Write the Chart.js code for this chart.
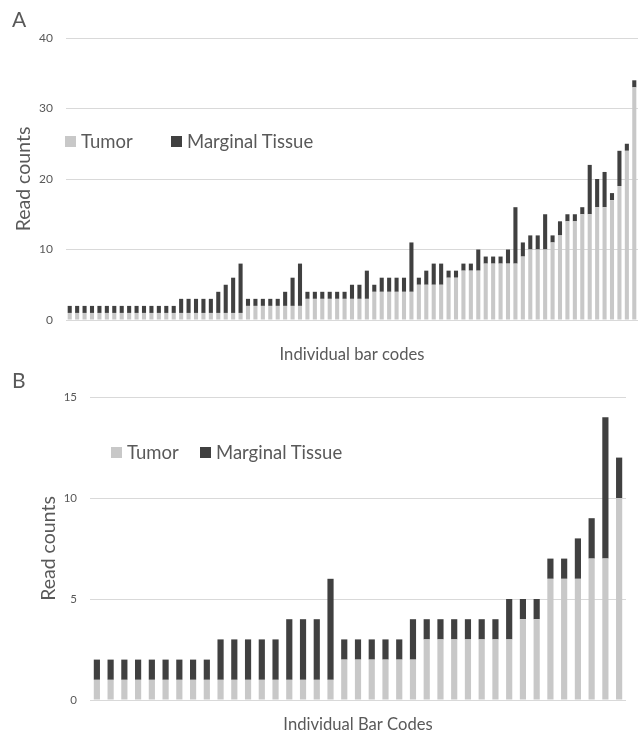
<!DOCTYPE html>
<html>
<head>
<meta charset="utf-8">
<script src="https://cdn.jsdelivr.net/npm/chart.js@4.4.1/dist/chart.umd.min.js"></script>
<style>
  body { margin: 0; background: #fff; font-family: Lato, sans-serif; color: #595959; }
  .wrap { position: relative; width: 639px; height: 735px; overflow: hidden; }
  .panel { position: absolute; left: 0; }
  .tag { position: absolute; font-size: 21px; color: #595959; }
  .legend { position: absolute; font-size: 18.5px; color: #595959; white-space: nowrap; }
  .legend span.sw { position: absolute; width: 11px; height: 11px; }
  .legend span.tx { position: absolute; line-height: 22px; }
</style>
</head>
<body>
<div class="wrap">
  <div class="panel" style="top:0"><canvas id="chartA" width="639" height="365"></canvas></div>
  <div class="panel" style="top:360px"><canvas id="chartB" width="639" height="375"></canvas></div>
  <div class="tag" style="left:12px;top:6px">A</div>
  <div class="tag" style="left:12px;top:367px">B</div>
  <div class="legend" id="legA" style="left:65px;top:136px"></div>
  <div class="legend" id="legB" style="left:111px;top:447px"></div>
</div>
<script>
// panel A: 77 bar codes, read counts
var aTumor = [1,1,1,1,1,1,1,1,1,1,1,1,1,1,1, 1,1,1,1,1, 1,1,1,1,
  2,2,2,2,2, 2,2,2, 3,3,3,3,3,3, 3,3,3, 4,4,4,4,4,4,
  5,5,5,5, 6,6, 7,7,7, 8,8,8,8,8, 9, 10,10,10, 11, 12, 14,14,
  15,15, 16,16, 17, 19, 24, 33];
var aMarginal = [1,1,1,1,1,1,1,1,1,1,1,1,1,1,1, 2,2,2,2,2, 3,4,5,7,
  1,1,1,1,1, 2,4,6, 1,1,1,1,1,1, 2,2,4, 1,2,2,2,2,7,
  1,2,3,3, 1,1, 1,1,3, 1,1,1,2,8, 2, 2,2,5, 1, 2, 1,1,
  1,7, 4,5, 1, 5, 1, 1];
var aTicks = [0, 10, 20, 30, 40];

// panel B: 39 bar codes
var bTumor = [1,1,1,1,1,1,1,1,1, 1,1,1,1,1, 1,1,1, 1,
  2,2,2,2,2, 2, 3,3,3,3,3,3, 3, 4,4, 6,6, 6, 7, 7, 10];
var bMarginal = [1,1,1,1,1,1,1,1,1, 2,2,2,2,2, 3,3,3, 5,
  1,1,1,1,1, 2, 1,1,1,1,1,1, 2, 1,1, 1,1, 2, 2, 7, 2];
var bTicks = [0, 5, 10, 15];

var seriesNames = ['Tumor', 'Marginal Tissue'];
var seriesColors = ['#c8c8c8', '#404040'];
var textColor = '#595959';
var gridColor = '#d9d9d9';

function makeChart(id, tumor, marginal, ticks, opt) {
  var labels = tumor.map(function(v, i) { return String(i + 1); });
  return new Chart(document.getElementById(id).getContext('2d'), {
    type: 'bar',
    data: {
      labels: labels,
      datasets: [{
        label: seriesNames[0],
        data: tumor,
        backgroundColor: seriesColors[0],
        categoryPercentage: 1,
        barPercentage: opt.barPct
      }, {
        label: seriesNames[1],
        data: marginal,
        backgroundColor: seriesColors[1],
        categoryPercentage: 1,
        barPercentage: opt.barPct
      }]
    },
    options: {
      responsive: false,
      animation: false,
      layout: { padding: { left: 0, top: opt.top, right: opt.right, bottom: 0 } },
      plugins: { legend: { display: false }, tooltip: { enabled: false } },
      scales: {
        x: {
          stacked: true,
          grid: { display: false },
          border: { display: false },
          ticks: { display: false },
          title: {
            display: true, text: opt.xTitle, color: textColor,
            font: { family: 'Lato', size: 16.6 },
            padding: { top: opt.xTitlePad, bottom: 0 }
          },
          afterFit: function(s) { s.height = opt.xHeight; }
        },
        y: {
          stacked: true,
          min: ticks[0],
          max: ticks[ticks.length - 1],
          afterBuildTicks: function(s) { s.ticks = ticks.map(function(v) { return { value: v }; }); },
          grid: { color: gridColor, drawTicks: false },
          border: { display: false },
          ticks: { color: textColor, padding: 13, font: { family: 'Lato', size: opt.tickSize } },
          title: {
            display: true, text: 'Read counts', color: textColor,
            font: { family: 'Lato', size: 19.5 },
            padding: { top: opt.yTitlePad, bottom: 0 }
          },
          afterFit: function(s) { s.width = opt.yWidth; }
        }
      }
    }
  });
}

function makeLegend(id, gap) {
  var el = document.getElementById(id);
  var html = '';
  seriesNames.forEach(function(name, i) {
    var x = i * gap;
    html += '<span class="sw" style="left:' + x + 'px;top:0;background:' + seriesColors[i] + '"></span>';
    html += '<span class="tx" style="left:' + (x + 16) + 'px;top:-6px">' + name + '</span>';
  });
  el.innerHTML = html;
}

makeChart('chartA', aTumor, aMarginal, aTicks, {
  barPct: 0.55, top: 38, right: 1, xHeight: 45, xTitlePad: 15,
  yWidth: 66, yTitlePad: 12, tickSize: 12, xTitle: 'Individual bar codes'
});
makeChart('chartB', bTumor, bMarginal, bTicks, {
  barPct: 0.45, top: 37, right: 13, xHeight: 35, xTitlePad: 10,
  yWidth: 90, yTitlePad: 37, tickSize: 11.5, xTitle: 'Individual Bar Codes'
});
makeLegend('legA', 106);
makeLegend('legB', 89);
</script>
</body>
</html>
